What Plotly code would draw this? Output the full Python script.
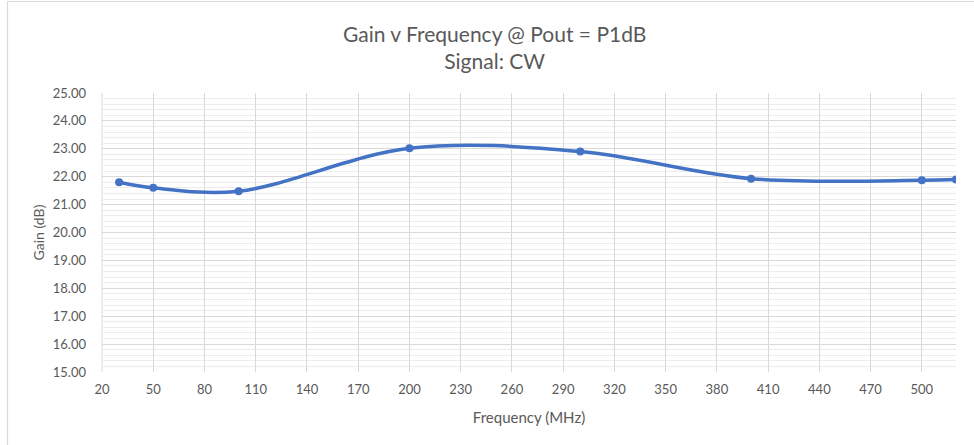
import plotly.graph_objects as go

# Measured gain across frequency at P1dB output, CW signal
freq_mhz = [30, 50, 100, 200, 300, 400, 500, 520]
gain_db = [21.80, 21.60, 21.48, 23.02, 22.90, 21.93, 21.87, 21.90]

x_ticks = list(range(20, 501, 30))
y_ticks = [15 + i for i in range(11)]
y_tick_labels = [f"{v:.2f}" for v in y_ticks]

title_lines = ["Gain v Frequency @ Pout = P1dB", "Signal: CW"]
x_title = "Frequency (MHz)"
y_title = "Gain (dB)"

FONT = "Lato, 'Open Sans', sans-serif"
TEXT = "#595959"
GRID = "#d9d9d9"
MINOR = "#ececec"
BLUE = "#4472C4"

W, H = 974, 445
ML, MR, MT, MB = 102, 18, 93, 73
PW, PH = W - ML - MR, H - MT - MB


def px_to_paper_x(px):
    return (px - ML) / PW


def px_to_paper_y(py):
    return (H - MB - py) / PH


fig = go.Figure()
fig.add_trace(go.Scatter(
    x=freq_mhz, y=gain_db,
    mode="lines+markers",
    line=dict(color=BLUE, width=3.5, shape="spline", smoothing=1.0),
    marker=dict(color=BLUE, size=8),
    showlegend=False,
))

fig.update_layout(
    width=W, height=H,
    margin=dict(l=ML, r=MR, t=MT, b=MB),
    paper_bgcolor="white",
    plot_bgcolor="white",
    font=dict(family=FONT, color=TEXT, size=12),
    xaxis=dict(
        range=[20, 520],
        tickmode="array", tickvals=x_ticks, ticktext=[str(t) for t in x_ticks],
        showgrid=True, gridcolor=GRID, gridwidth=1,
        showline=False, zeroline=False,
        ticks="", ticklabelstandoff=8,
        tickfont=dict(size=13, color=TEXT, family=FONT),
        title=dict(text=x_title, font=dict(size=15, color=TEXT, family=FONT), standoff=16),
    ),
    yaxis=dict(
        range=[15, 25],
        tickmode="array", tickvals=y_ticks, ticktext=y_tick_labels,
        showgrid=True, gridcolor=GRID, gridwidth=1,
        minor=dict(dtick=0.2, showgrid=True, gridcolor=MINOR, gridwidth=1),
        showline=False, zeroline=False,
        ticks="", ticklabelstandoff=15,
        tickfont=dict(size=13, color=TEXT, family=FONT),
        title=dict(text=y_title, font=dict(size=14, color=TEXT, family=FONT), standoff=4),
    ),
    annotations=[dict(
        text="<br>".join(title_lines),
        xref="paper", yref="paper",
        x=px_to_paper_x(494), y=px_to_paper_y(47),
        xanchor="center", yanchor="middle",
        showarrow=False,
        font=dict(size=21, color=TEXT, family=FONT),
    )],
    shapes=[
        # left edge of the plot area
        dict(type="line", xref="paper", yref="paper",
             x0=0, x1=0, y0=0, y1=1, line=dict(color=GRID, width=1), layer="below"),
        # chart area frame
        dict(type="rect", xref="paper", yref="paper",
             x0=px_to_paper_x(7.5), x1=px_to_paper_x(990),
             y0=px_to_paper_y(460), y1=px_to_paper_y(1.5),
             line=dict(color="#d9d9d9", width=1.2), fillcolor="rgba(0,0,0,0)"),
    ],
)

fig.write_html("out.html")
